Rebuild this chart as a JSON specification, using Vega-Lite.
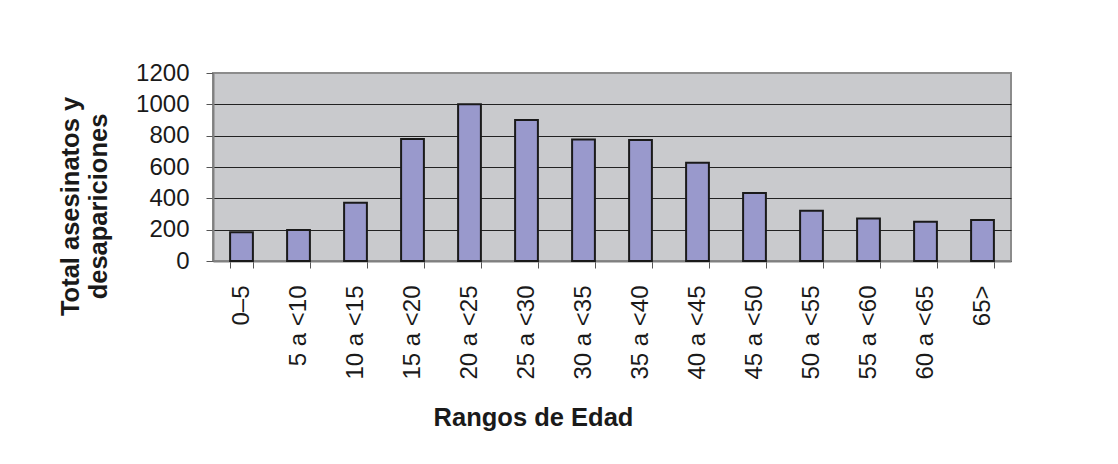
{
  "$schema": "https://vega.github.io/schema/vega-lite/v6.json",
  "autosize": "none",
  "width": 798,
  "height": 188,
  "padding": {"left": 213, "top": 73, "right": 107, "bottom": 203},
  "background": "white",
  "config": {
    "font": "Liberation Sans",
    "view": {"fill": "#c9cacd", "stroke": "#8c8c8c", "strokeWidth": 2}
  },
  "data": {
    "values": [
      {"rango": "0–5", "total": 183},
      {"rango": "5 a <10", "total": 198},
      {"rango": "10 a <15", "total": 372},
      {"rango": "15 a <20", "total": 778},
      {"rango": "20 a <25", "total": 1000},
      {"rango": "25 a <30", "total": 900},
      {"rango": "30 a <35", "total": 776},
      {"rango": "35 a <40", "total": 772},
      {"rango": "40 a <45", "total": 627},
      {"rango": "45 a <50", "total": 434},
      {"rango": "50 a <55", "total": 321},
      {"rango": "55 a <60", "total": 272},
      {"rango": "60 a <65", "total": 251},
      {"rango": "65>", "total": 262}
    ]
  },
  "mark": {"type": "bar", "fill": "#9999cc", "stroke": "#1a1a1a", "strokeWidth": 2},
  "encoding": {
    "x": {
      "field": "rango",
      "type": "ordinal",
      "sort": null,
      "scale": {"paddingInner": 0.6, "paddingOuter": 0.3},
      "axis": {
        "title": "Rangos de Edad",
        "titleFont": "Liberation Sans",
        "titleFontSize": 25.5,
        "titleFontWeight": "bold",
        "titleColor": "#1a1a1a",
        "titleX": 320,
        "titleY": 164,
        "titleAlign": "center",
        "titleBaseline": "alphabetic",
        "labelAngle": -90,
        "labelFontSize": 24,
        "labelColor": "#1a1a1a",
        "labelPadding": 17,
        "tickBand": "extent",
        "tickSize": 7,
        "tickColor": "#555555",
        "domainColor": "#808080",
        "domainWidth": 2,
        "grid": false
      }
    },
    "y": {
      "field": "total",
      "type": "quantitative",
      "scale": {"domain": [0, 1200], "nice": false},
      "axis": {
        "title": ["Total asesinatos y", "desapariciones"],
        "titleFont": "Liberation Sans",
        "titleFontSize": 25.5,
        "titleFontWeight": "bold",
        "titleColor": "#1a1a1a",
        "titleAngle": -90,
        "titleX": -135,
        "titleY": 133,
        "titleAlign": "center",
        "titleBaseline": "alphabetic",
        "titleLineHeight": 28,
        "values": [0, 200, 400, 600, 800, 1000, 1200],
        "format": "d",
        "labelFontSize": 24,
        "labelColor": "#1a1a1a",
        "labelPadding": 17,
        "tickSize": 7,
        "tickColor": "#555555",
        "domainColor": "#808080",
        "domainWidth": 2,
        "grid": true,
        "gridColor": {"condition": {"test": "datum.value == 1200", "value": "#8c8c8c"}, "value": "#222222"},
        "gridWidth": 1
      }
    }
  }
}
